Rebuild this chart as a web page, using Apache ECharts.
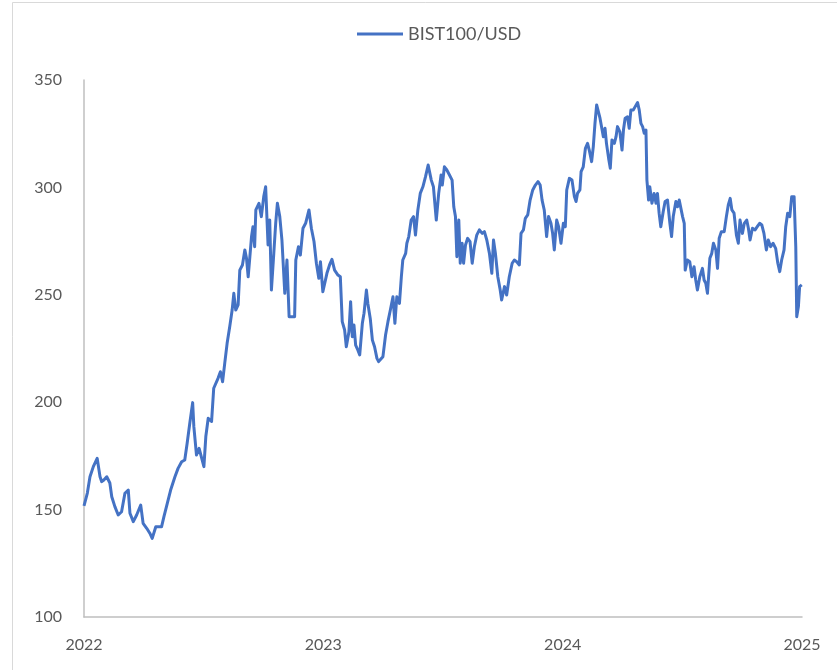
<!DOCTYPE html>
<html>
<head>
<meta charset="utf-8">
<script src="https://cdn.jsdelivr.net/npm/echarts@6/dist/echarts.min.js"></script>
<style>
  html, body { margin: 0; padding: 0; background: #fff; }
  #chart { width: 837px; height: 670px; }
</style>
</head>
<body>
<div id="chart"></div>
<script>
// x position as fractional year
var years = [
  2022.000, 2022.014, 2022.025, 2022.039, 2022.055, 2022.067, 2022.074, 2022.083, 2022.095, 2022.108,
  2022.116, 2022.129, 2022.143, 2022.157, 2022.171, 2022.185, 2022.192, 2022.206, 2022.220, 2022.237,
  2022.247, 2022.262, 2022.275, 2022.285, 2022.300, 2022.324, 2022.334, 2022.348, 2022.362, 2022.380,
  2022.393, 2022.408, 2022.421, 2022.431, 2022.442, 2022.454, 2022.459, 2022.470, 2022.481, 2022.501,
  2022.509, 2022.519, 2022.533, 2022.542, 2022.560, 2022.570, 2022.579, 2022.588, 2022.598, 2022.609,
  2022.619, 2022.626, 2022.634, 2022.644, 2022.651, 2022.662, 2022.672, 2022.679, 2022.686, 2022.693,
  2022.700, 2022.706, 2022.713, 2022.718, 2022.731, 2022.741, 2022.751, 2022.759, 2022.769, 2022.776,
  2022.783, 2022.793, 2022.801, 2022.808, 2022.818, 2022.827, 2022.839, 2022.848, 2022.857, 2022.880,
  2022.885, 2022.896, 2022.904, 2022.915, 2022.926, 2022.940, 2022.950, 2022.961, 2022.971, 2022.981,
  2022.988, 2022.998, 2023.006, 2023.015, 2023.026, 2023.036, 2023.047, 2023.061, 2023.071, 2023.079,
  2023.089, 2023.096, 2023.107, 2023.114, 2023.121, 2023.128, 2023.135, 2023.144, 2023.152, 2023.163,
  2023.170, 2023.180, 2023.186, 2023.196, 2023.205, 2023.214, 2023.224, 2023.231, 2023.249, 2023.260,
  2023.270, 2023.280, 2023.291, 2023.299, 2023.307, 2023.318, 2023.326, 2023.332, 2023.344, 2023.349,
  2023.357, 2023.367, 2023.377, 2023.385, 2023.395, 2023.405, 2023.416, 2023.427, 2023.438, 2023.451,
  2023.460, 2023.472, 2023.482, 2023.492, 2023.497, 2023.506, 2023.516, 2023.527, 2023.538, 2023.545,
  2023.552, 2023.558, 2023.566, 2023.572, 2023.580, 2023.586, 2023.594, 2023.603, 2023.613, 2023.622,
  2023.631, 2023.641, 2023.652, 2023.664, 2023.673, 2023.683, 2023.694, 2023.704, 2023.711, 2023.719,
  2023.729, 2023.739, 2023.745, 2023.757, 2023.766, 2023.777, 2023.789, 2023.798, 2023.808, 2023.819,
  2023.826, 2023.836, 2023.844, 2023.854, 2023.864, 2023.875, 2023.886, 2023.897, 2023.906, 2023.914,
  2023.923, 2023.933, 2023.941, 2023.951, 2023.958, 2023.965, 2023.975, 2023.983, 2023.993, 2024.003,
  2024.011, 2024.017, 2024.028, 2024.039, 2024.049, 2024.056, 2024.062, 2024.072, 2024.077, 2024.086,
  2024.095, 2024.104, 2024.111, 2024.121, 2024.128, 2024.135, 2024.142, 2024.149, 2024.156, 2024.164,
  2024.170, 2024.177, 2024.183, 2024.192, 2024.199, 2024.206, 2024.216, 2024.223, 2024.229, 2024.239,
  2024.248, 2024.254, 2024.261, 2024.271, 2024.278, 2024.285, 2024.295, 2024.303, 2024.313, 2024.320,
  2024.327, 2024.334, 2024.341, 2024.348, 2024.352, 2024.359, 2024.364, 2024.373, 2024.382, 2024.390,
  2024.396, 2024.403, 2024.410, 2024.420, 2024.428, 2024.438, 2024.448, 2024.455, 2024.462, 2024.473,
  2024.480, 2024.487, 2024.501, 2024.508, 2024.512, 2024.521, 2024.531, 2024.540, 2024.549, 2024.556,
  2024.563, 2024.573, 2024.584, 2024.591, 2024.598, 2024.605, 2024.615, 2024.623, 2024.630, 2024.640,
  2024.647, 2024.654, 2024.663, 2024.675, 2024.684, 2024.692, 2024.700, 2024.707, 2024.716, 2024.726,
  2024.734, 2024.741, 2024.751, 2024.759, 2024.769, 2024.776, 2024.783, 2024.793, 2024.804, 2024.813,
  2024.823, 2024.832, 2024.841, 2024.851, 2024.859, 2024.869, 2024.879, 2024.890, 2024.899, 2024.907,
  2024.915, 2024.925, 2024.932, 2024.940, 2024.949, 2024.957, 2024.967, 2024.974, 2024.978, 2024.985,
  2024.990, 2024.999
];

var bistUsd = [
  151.7, 157.7, 165.3, 170.0, 173.9, 165.3, 163.0, 163.8, 165.3, 162.4,
  156.0, 151.4, 147.5, 149.0, 157.6, 159.1, 148.3, 144.4, 147.5, 152.1,
  143.6, 141.3, 139.0, 136.6, 142.0, 142.0, 146.7, 152.9, 159.1, 165.3,
  169.2, 172.3, 173.1, 180.9, 190.2, 199.8, 188.6, 175.4, 178.5, 170.0,
  184.0, 192.5, 191.0, 206.5, 211.1, 214.2, 209.5, 218.1, 227.4, 235.2,
  242.9, 250.7, 242.9, 245.3, 261.5, 263.9, 270.9, 267.0, 258.4, 267.7,
  277.1, 281.7, 272.4, 289.5, 292.6, 286.4, 295.7, 300.3, 273.2, 284.8,
  252.2, 269.3, 283.3, 292.6, 286.4, 275.5, 250.7, 266.2, 239.8, 239.8,
  266.2, 272.4, 268.5, 281.0, 283.3, 289.5, 281.0, 274.8, 264.7, 257.7,
  265.4, 251.4, 251.4, 260.0, 263.9, 266.5, 261.5, 259.2, 258.4, 237.5,
  233.6, 225.8, 232.8, 246.8, 230.5, 235.9, 226.6, 224.3, 222.0, 236.7,
  241.4, 252.2, 246.0, 239.0, 228.9, 225.8, 220.4, 218.9, 221.2, 231.3,
  237.5, 242.9, 249.1, 236.7, 249.1, 246.0, 258.4, 266.2, 269.3, 274.0,
  277.1, 284.8, 286.4, 277.8, 289.5, 297.2, 300.3, 305.0, 310.4, 303.4,
  300.3, 284.8, 297.2, 305.8, 301.1, 309.6, 308.1, 305.8, 303.4, 291.0,
  286.4, 267.7, 284.8, 264.7, 274.0, 264.7, 273.2, 276.3, 274.8, 264.7,
  272.4, 277.8, 280.2, 278.6, 279.4, 275.5, 269.3, 260.0, 275.5, 269.3,
  258.4, 252.2, 247.6, 253.8, 249.9, 258.4, 264.7, 266.2, 265.4, 263.9,
  278.6, 280.2, 285.6, 287.2, 294.1, 298.8, 301.1, 302.7, 301.1, 294.1,
  289.5, 277.1, 286.4, 283.3, 278.6, 270.9, 284.8, 281.7, 274.0, 283.3,
  281.7, 298.8, 304.2, 303.4, 295.7, 293.4, 297.2, 298.8, 307.3, 309.6,
  318.2, 320.5, 317.4, 312.0, 319.0, 329.8, 338.4, 339.1, 332.2, 331.4,
  323.6, 327.5, 320.5, 313.5, 308.9, 322.1, 320.5, 323.6, 328.3, 325.9,
  317.4, 326.7, 332.2, 332.9, 327.5, 336.0, 336.0, 337.6, 339.5, 336.0,
  329.8, 328.3, 325.2, 326.7, 303.4, 294.1, 300.3, 292.6, 297.2, 292.6,
  297.2, 288.0, 281.7, 288.7, 293.4, 294.1, 283.3, 277.1, 286.4, 293.4,
  291.0, 294.1, 286.4, 283.3, 261.5, 266.2, 265.4, 258.4, 263.1, 256.9,
  252.2, 258.4, 262.3, 256.9, 255.4, 250.7, 267.0, 269.3, 274.0, 270.9,
  262.3, 276.3, 279.4, 279.4, 286.4, 291.8, 294.9, 289.5, 288.0, 277.8,
  274.0, 284.8, 278.6, 283.3, 284.8, 281.0, 275.5, 281.0, 280.2, 281.7,
  283.3, 282.5, 278.6, 270.9, 275.5, 272.4, 274.0, 271.6, 264.7, 260.8,
  266.2, 270.9, 281.7, 288.0, 286.4, 295.7, 295.7, 272.4, 239.8, 244.5,
  253.8, 254.6
];

var seriesName = 'BIST100/USD';
var yTicks = [100, 150, 200, 250, 300, 350];
var xLabels = [2022, 2023, 2024, 2025];

var points = years.map(function (y, i) { return [y, bistUsd[i]]; });

var chart = echarts.init(document.getElementById('chart'));
var axisColor = '#bfbfbf';
var labelColor = '#595959';
var font = 'Lato, "Open Sans", sans-serif';

chart.setOption({
  animation: false,
  backgroundColor: '#ffffff',
  graphic: [{
    type: 'rect',
    shape: { x: 12.5, y: 2.5, width: 840, height: 700 },
    style: { fill: 'none', stroke: '#d9d9d9', lineWidth: 1 },
    silent: true
  }],
  legend: {
    top: 20,
    left: 352,
    icon: 'rect',
    itemWidth: 46,
    itemHeight: 3,
    itemGap: 10,
    textStyle: { color: labelColor, fontSize: 18, fontFamily: font },
    data: [seriesName]
  },
  grid: { left: 84, right: 35, top: 80, bottom: 53 },
  xAxis: {
    type: 'value',
    min: xLabels[0],
    max: xLabels[xLabels.length - 1],
    interval: 1,
    axisLine: { show: true, lineStyle: { color: axisColor, width: 1.5 } },
    axisTick: { show: false },
    splitLine: { show: false },
    axisLabel: {
      color: labelColor,
      fontSize: 16,
      fontFamily: font,
      margin: 20,
      formatter: function (v) { return String(Math.round(v)); }
    }
  },
  yAxis: {
    type: 'value',
    min: yTicks[0],
    max: yTicks[yTicks.length - 1],
    interval: 50,
    axisLine: { show: true, lineStyle: { color: axisColor, width: 1.5 } },
    axisTick: { show: false },
    splitLine: { show: false },
    axisLabel: { color: labelColor, fontSize: 16, fontFamily: font, margin: 22 }
  },
  series: [{
    name: seriesName,
    type: 'line',
    data: points,
    showSymbol: false,
    symbol: 'none',
    lineStyle: { color: '#4472c4', width: 3, join: 'round' },
    itemStyle: { color: '#4472c4' }
  }]
});
</script>
</body>
</html>
